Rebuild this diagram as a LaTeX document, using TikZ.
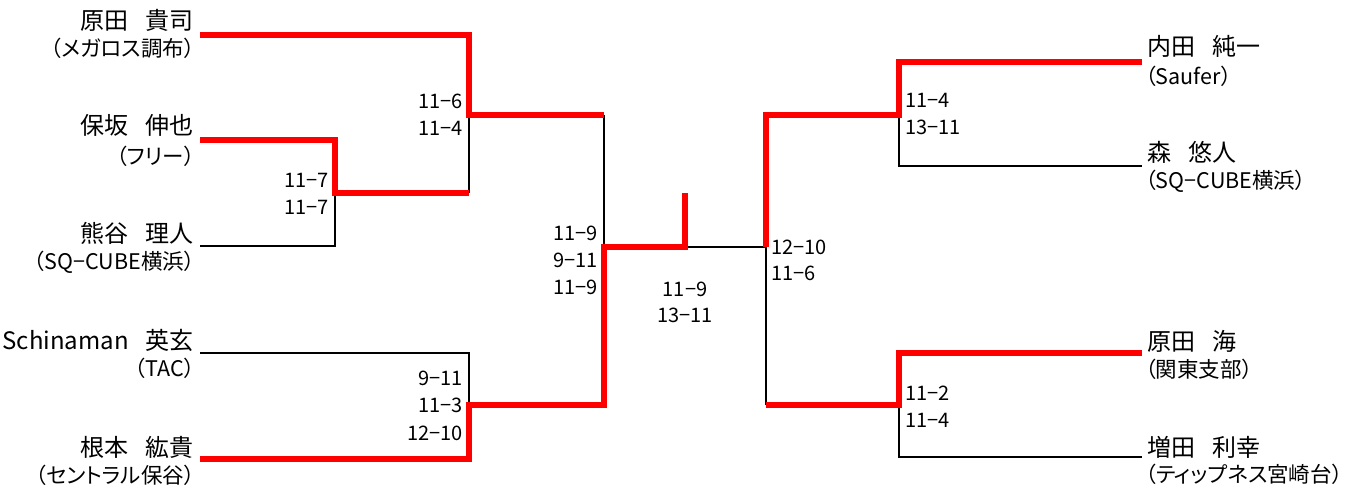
\documentclass[tikz,border=0pt]{standalone}
\usepackage{fontspec}
\setmainfont{Noto Sans CJK JP}
\newfontfamily\teamfont[RawFeature=+palt]{Noto Sans CJK JP}
\definecolor{winred}{RGB}{255,0,0}
\newcommand{\gapsp}{\hspace{17pt}}
\tikzset{
  win/.style={draw=winred,line width=5.5pt,line join=miter},
  lose/.style={draw=black,line width=1.6pt,line join=miter},
  pname/.style={inner sep=0pt,font=\fontsize{24}{24}\selectfont},
  pteam/.style={inner sep=0pt,font=\teamfont\fontsize{21.5}{21.5}\selectfont},
  score/.style={inner sep=0pt,font=\fontsize{20}{20}\selectfont}
}
\begin{document}
\begin{tikzpicture}[x=1pt,y=-1pt]
\useasboundingbox (0,0) rectangle (1370,491);
% ---------- names left ----------
\node[pname,anchor=east] (n1) at (194,20) {原田\gapsp 貴司};
\node[pname,anchor=east] (n2) at (194,125) {保坂\gapsp 伸也};
\node[pname,anchor=east] (n3) at (194,233) {熊谷\gapsp 理人};
\node[pname,anchor=east] (n4) at (194,340) {Schinaman\gapsp 英玄};
\node[pname,anchor=east] (n5) at (194,447) {根本\gapsp 紘貴};
\node[pteam,anchor=east] (t1) at (195,48) {（メガロス調布）};
\node[pteam,anchor=east] (t2) at (195,156) {（フリー）};
\node[pteam,anchor=east] (t3) at (195,262) {（SQ−CUBE横浜）};
\node[pteam,anchor=east] (t4) at (195,368) {（TAC）};
\node[pteam,anchor=east] (t5) at (195,475) {（セントラル保谷）};
% ---------- names right ----------
\node[pname,anchor=west] (n6) at (1147,46) {内田\gapsp 純一};
\node[pname,anchor=west] (n7) at (1147,152) {森\gapsp 悠人};
\node[pname,anchor=west] (n8) at (1147,341) {原田\gapsp 海};
\node[pname,anchor=west] (n9) at (1147,447) {増田\gapsp 利幸};
\node[pteam,anchor=west] (t6) at (1145,76) {（Saufer）};
\node[pteam,anchor=west] (t7) at (1145,181) {（SQ−CUBE横浜）};
\node[pteam,anchor=west] (t8) at (1145,369) {（関東支部）};
\node[pteam,anchor=west] (t9) at (1145,474) {（ティップネス宮崎台）};
% ---------- junction coordinates ----------
\coordinate (a1) at (200,35);   \coordinate (a2) at (200,140);
\coordinate (a3) at (200,246);  \coordinate (a4) at (200,353);
\coordinate (a5) at (200,459);
\coordinate (b1) at (1142,62);  \coordinate (b2) at (1142,166);
\coordinate (b3) at (1142,353); \coordinate (b4) at (1142,457);
\coordinate (m23) at (335,193);
\coordinate (m123) at (469,115);
\coordinate (m45) at (469,405);
\coordinate (sfL) at (604,247);
\coordinate (fin) at (685,247);
\coordinate (finTop) at (685,193);
\coordinate (sfR) at (766,247);
\coordinate (m67) at (899,115);
\coordinate (m89) at (899,405);
% ---------- losing (black) lines ----------
\draw[lose] (m123) -- (m123 |- m23);
\draw[lose] (a3) -| (m23);
\draw[lose] (a4) -| (m45);
\draw[lose] (sfL |- m123) -- (sfL);
\draw[lose] (fin) -- (sfR) -- (sfR |- m89);
\draw[lose] (m67) |- (b2);
\draw[lose] (m89) |- (b4);
% ---------- winning (red) lines ----------
\draw[win] (a1) -| (m123) -- (sfL |- m123);
\draw[win] (a2) -| (m23) -- (m123 |- m23);
\draw[win] (a5) -| (m45) -- (sfL |- m45) -- (sfL) -- (fin) -- (finTop);
\draw[win] (sfR) -- (sfR |- m67) -- (m67) |- (b1);
\draw[win] (sfR |- m89) -- (m89) |- (b3);
% ---------- scores ----------
\node[score,anchor=east] (s1a) at (463,101) {11−6};
\node[score,anchor=east] (s1b) at (463,128) {11−4};
\node[score,anchor=east] (s2a) at (329,180) {11−7};
\node[score,anchor=east] (s2b) at (329,207) {11−7};
\node[score,anchor=east] (s3a) at (463,378) {9−11};
\node[score,anchor=east] (s3b) at (463,405) {11−3};
\node[score,anchor=east] (s3c) at (463,433) {12−10};
\node[score,anchor=east] (s4a) at (598,233) {11−9};
\node[score,anchor=east] (s4b) at (598,260) {9−11};
\node[score,anchor=east] (s4c) at (598,287) {11−9};
\node[score] (s5a) at (685,289) {11−9};
\node[score] (s5b) at (685,315) {13−11};
\node[score,anchor=west] (s6a) at (771,247) {12−10};
\node[score,anchor=west] (s6b) at (771,273) {11−6};
\node[score,anchor=west] (s7a) at (905,100) {11−4};
\node[score,anchor=west] (s7b) at (905,127) {13−11};
\node[score,anchor=west] (s8a) at (905,393) {11−2};
\node[score,anchor=west] (s8b) at (905,420) {11−4};
\end{tikzpicture}
\end{document}
